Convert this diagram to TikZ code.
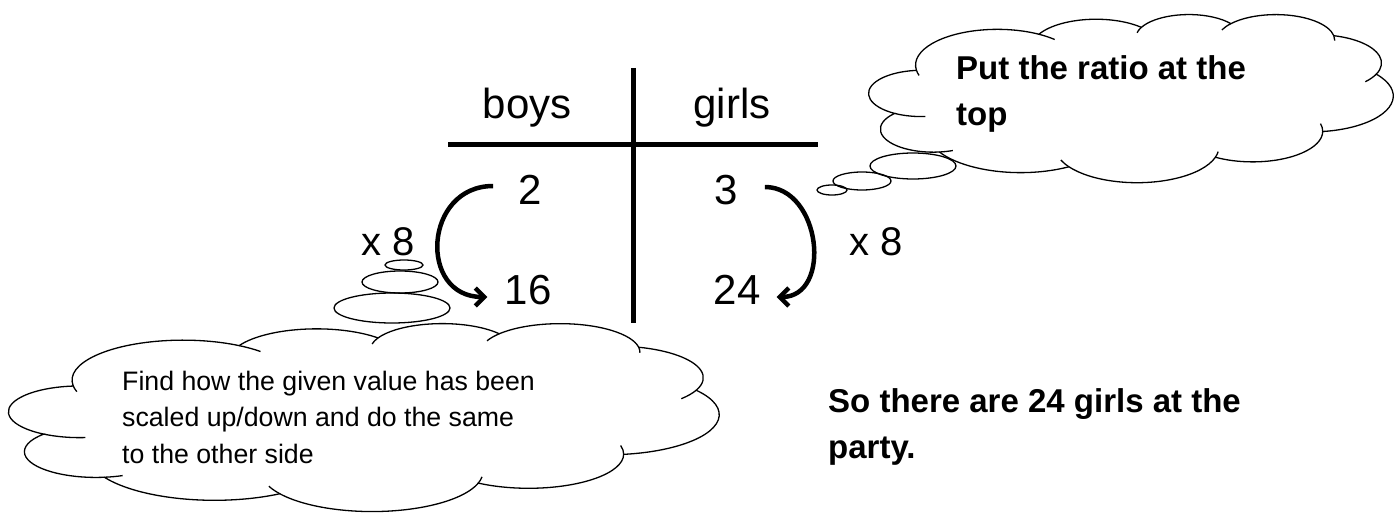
\documentclass[tikz,border=0pt]{standalone}
\usepackage{fontspec}
\setmainfont{Liberation Sans}
\usetikzlibrary{arrows.meta,positioning}
\tikzset{
  entry/.style={font=\fontsize{42}{48}\selectfont,inner sep=0pt},
  times/.style={font=\fontsize{40}{44}\selectfont,inner sep=0pt},
  puff/.style={line width=1.3pt},
  note/.style={font=\fontsize{33}{46}\selectfont\bfseries,align=left,inner sep=0pt,anchor=base west},
  hint/.style={font=\fontsize{26.7}{36.5}\selectfont,align=left,inner sep=0pt,anchor=base west},
  turn/.style={line width=4.5pt,-{Straight Barb[length=9pt,width=18pt,line width=4.5pt]}},
}
% cloud of eleven puffs: name, left, top, x unit, y unit
\newcommand{\thoughtcloud}[5]{%
\begin{scope}[shift={(#2,#3)},x=#4pt,y=-#5pt]
\draw[puff,fill=white] (3900,14370) coordinate (#1-c0)
  \foreach \i/\w/\h/\s/\d in {1/6753/9190/-190.4875/123.7805,2/5333/7267/-144.1024/89.9452,3/4365/5945/-145.8079/99.7230,4/4857/6595/-130.9861/117.2417,5/5333/7273/-78.7089/109.0269,6/6775/9220/-46.2673/130.2690,7/5785/7867/0.6250/114.0333,8/6752/9215/22.4516/115.1726,9/7720/10543/66.2426/75.7110,10/4360/5918/-274.9421/146.7356,11/4345/5945/-246.8285/152.5189}
  { [/utils/exec={\pgfmathsetmacro\ta{atan2(\w*sin(\s),\h*cos(\s))}%
     \pgfmathsetmacro\tb{atan2(\w*sin(\s+\d),\h*cos(\s+\d))}%
     \pgfmathsetmacro\dt{mod(\tb-\ta+720,360)}}]
    arc[x radius=\w,y radius=\h,start angle=\ta,delta angle=\dt] coordinate (#1-c\i) } -- cycle;
% inner bits of the puffs
\foreach \j/\w/\h/\s/\e in {0/6753/9190/-190.4875/-11.86,1/6753/9190/-66.707/12.32,2/4365/5945/-145.8079/-17.7,3/4857/6595/-130.9861/-18.2,4/4857/6595/-13.7444/14.86,5/5333/7273/30.318/20,6/5785/7867/0.625/-20,7/6752/9215/22.4516/-12,8/6752/9215/137.624/14.08,9/4360/5918/-274.9421/-11.45,10/4345/5945/-246.8285/-26.43} {
  \pgfmathsetmacro\ta{atan2(\w*sin(\s),\h*cos(\s))}
  \pgfmathsetmacro\tb{atan2(\w*sin(\s+\e),\h*cos(\s+\e))}
  \pgfmathsetmacro\dt{mod(\tb-\ta+540,360)-180}
  \draw[puff] (#1-c\j) arc[x radius=\w,y radius=\h,start angle=\ta,delta angle=\dt];
}
\end{scope}}

\begin{document}
\begin{tikzpicture}[x=1pt,y=-1pt]
\useasboundingbox (0,0) rectangle (1397,513);
% the table
\draw[line width=5pt] (448,145) -- (818,145);
\draw[line width=5pt] (633,68) -- (633,323);
\node[entry] (boys) at (527,108) {boys};
\node[entry] (girls) at (732,108) {girls};
\node[entry] (two) at (530,190) {2};
\node[entry] (three) at (726,190) {3};
\node[entry] (sixteen) at (528,290) {16};
\node[entry] (twentyfour) at (737,290) {24};
% scaling arrows
\draw[turn] ([xshift=-25pt,yshift=4pt]two.west) to[out=180,in=180,looseness=1.6] ([xshift=-17pt,yshift=-7pt]sixteen.west);
\draw[turn] ([xshift=27pt,yshift=3pt]three.east) to[out=0,in=0,looseness=1.3] ([xshift=16pt,yshift=-7pt]twentyfour.east);
\node[times] (lefttimes) at (388,242) {x 8};
\node[times] (righttimes) at (876,242) {x 8};
% thought clouds
\thoughtcloud{topcloud}{869}{14}{0.012130}{0.0038889}
\node[note] (ratio) at (956,126) {Put the ratio at the\\top};
\foreach \cx/\cy/\rx/\ry in {913/166/43/13,862/181/29/9,832/190/15/5} {
  \draw[puff] (\cx,\cy) ellipse (\rx pt and \ry pt);
}
\thoughtcloud{bottomcloud}{9}{323}{0.016435}{0.0043519}
\node[hint] (given) at (122,463) {Find how the given value has been\\scaled up/down and do the same\\to the other side};
\foreach \cx/\cy/\rx/\ry in {392/308/58/15,400/282/38/11,404/265/19/5} {
  \draw[puff] (\cx,\cy) ellipse (\rx pt and \ry pt);
}
%\draw[red] (0,0) rectangle (1397,513);
\node[note] (answer) at (828,458) {So there are 24 girls at the\\party.};
\end{tikzpicture}
\end{document}
